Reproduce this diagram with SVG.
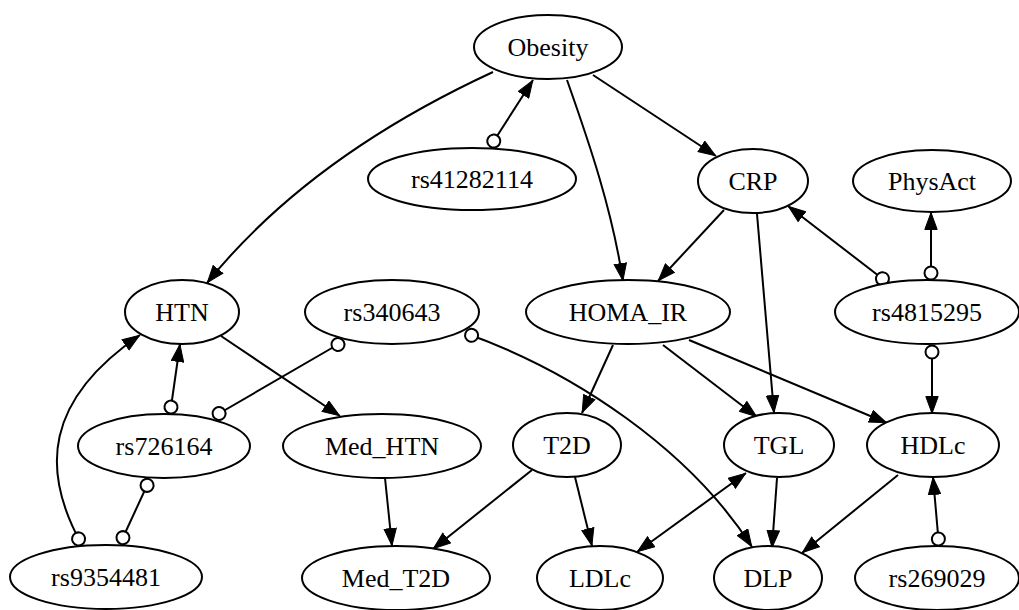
<svg xmlns="http://www.w3.org/2000/svg" width="1019" height="610" viewBox="0 0 1019 610">
<style>
.n ellipse{fill:#fff;stroke:#000;stroke-width:2}
.n text{font-family:"Liberation Serif","Times New Roman",serif;font-size:26px;fill:#000;text-anchor:middle}
.e path{fill:none;stroke:#000;stroke-width:2}
.a{marker-end:url(#arrow)}
.o{marker-start:url(#odot)}
.b{marker-start:url(#arrowS)}
.oo{marker-start:url(#odot);marker-end:url(#odotE)}
</style>
<defs>
<marker id="arrow" markerUnits="userSpaceOnUse" viewBox="0 0 18 14" refX="18" refY="7" markerWidth="18" markerHeight="14" orient="auto"><path d="M0.5,0.8 L17.5,7 L0.5,13.2 z" fill="#000" stroke="#000" stroke-width="1"/></marker>
<marker id="arrowS" markerUnits="userSpaceOnUse" viewBox="0 0 18 14" refX="18" refY="7" markerWidth="18" markerHeight="14" orient="auto-start-reverse"><path d="M0.5,0.8 L17.5,7 L0.5,13.2 z" fill="#000" stroke="#000" stroke-width="1"/></marker>
<marker id="odot" markerUnits="userSpaceOnUse" viewBox="0 0 18 18" refX="15" refY="9" markerWidth="18" markerHeight="18" orient="auto-start-reverse"><circle cx="8" cy="9" r="6.5" fill="#fff" stroke="#000" stroke-width="2"/></marker>
<marker id="odotE" markerUnits="userSpaceOnUse" viewBox="0 0 18 18" refX="15" refY="9" markerWidth="18" markerHeight="18" orient="auto"><circle cx="8" cy="9" r="6.5" fill="#fff" stroke="#000" stroke-width="2"/></marker>
</defs>
<rect width="1019" height="610" fill="#fff"/>
<g id="edges" class="e">
<path class="a" d="M493,72 C400,115 290,180 207,283"/>
<path class="o a" d="M490,147 L533,80"/>
<path class="a" d="M567,80 C590,145 612,210 623,281"/>
<path class="a" d="M593,75 L716,156"/>
<path class="a" d="M724,210 L658,281"/>
<path class="a" d="M757,214 L774,413"/>
<path class="o a" d="M888,283 L788,206"/>
<path class="o a" d="M931,280 L931,212"/>
<path class="o a" d="M932,345 L932,414"/>
<path class="a" d="M221,336 L340,416"/>
<path class="o a" d="M170,414 L180,344"/>
<path class="oo" d="M344,341 L213,417"/>
<path class="o a" d="M465,333 C575,372 690,450 752,547"/>
<path class="oo" d="M150,479 L120,544"/>
<path class="o a" d="M82,545 C40,470 45,400 140,335"/>
<path class="a" d="M385,478 L392,546"/>
<path class="a" d="M532,470 L433,549"/>
<path class="a" d="M575,477 L592,546"/>
<path class="a" d="M613,345 L582,413"/>
<path class="a" d="M663,345 L757,417"/>
<path class="a" d="M689,340 L887,423"/>
<path class="b a" d="M637,552 L746,473"/>
<path class="a" d="M777,478 L772,548"/>
<path class="a" d="M898,475 L802,553"/>
<path class="o a" d="M939,546 L933,477"/>
</g>
<g id="Obesity" class="n"><ellipse cx="548" cy="47" rx="74" ry="32"/><text x="548" y="56">Obesity</text></g>
<g id="rs41282114" class="n"><ellipse cx="472" cy="179" rx="104" ry="31"/><text x="472" y="188">rs41282114</text></g>
<g id="CRP" class="n"><ellipse cx="753" cy="181" rx="55" ry="32"/><text x="753" y="190">CRP</text></g>
<g id="PhysAct" class="n"><ellipse cx="932" cy="181" rx="79" ry="31"/><text x="932" y="190">PhysAct</text></g>
<g id="HTN" class="n"><ellipse cx="182" cy="312" rx="57" ry="32"/><text x="182" y="321">HTN</text></g>
<g id="rs340643" class="n"><ellipse cx="392" cy="312" rx="87" ry="32"/><text x="392" y="321">rs340643</text></g>
<g id="HOMA_IR" class="n"><ellipse cx="628" cy="312" rx="102" ry="32"/><text x="628" y="321">HOMA_IR</text></g>
<g id="rs4815295" class="n"><ellipse cx="927" cy="312" rx="92" ry="32"/><text x="927" y="321">rs4815295</text></g>
<g id="rs726164" class="n"><ellipse cx="164" cy="446" rx="86" ry="32"/><text x="164" y="455">rs726164</text></g>
<g id="Med_HTN" class="n"><ellipse cx="382" cy="446" rx="99" ry="32"/><text x="382" y="455">Med_HTN</text></g>
<g id="T2D" class="n"><ellipse cx="567" cy="445" rx="54" ry="32"/><text x="567" y="454">T2D</text></g>
<g id="TGL" class="n"><ellipse cx="779" cy="445" rx="55" ry="32"/><text x="779" y="454">TGL</text></g>
<g id="HDLc" class="n"><ellipse cx="933" cy="445" rx="66" ry="32"/><text x="933" y="454">HDLc</text></g>
<g id="rs9354481" class="n"><ellipse cx="106" cy="577" rx="96" ry="32"/><text x="106" y="586">rs9354481</text></g>
<g id="Med_T2D" class="n"><ellipse cx="396" cy="578" rx="94" ry="32"/><text x="396" y="587">Med_T2D</text></g>
<g id="LDLc" class="n"><ellipse cx="600" cy="578" rx="63" ry="32"/><text x="600" y="587">LDLc</text></g>
<g id="DLP" class="n"><ellipse cx="768" cy="578" rx="54" ry="32"/><text x="768" y="587">DLP</text></g>
<g id="rs269029" class="n"><ellipse cx="937" cy="578" rx="82" ry="32"/><text x="937" y="587">rs269029</text></g>
</svg>
